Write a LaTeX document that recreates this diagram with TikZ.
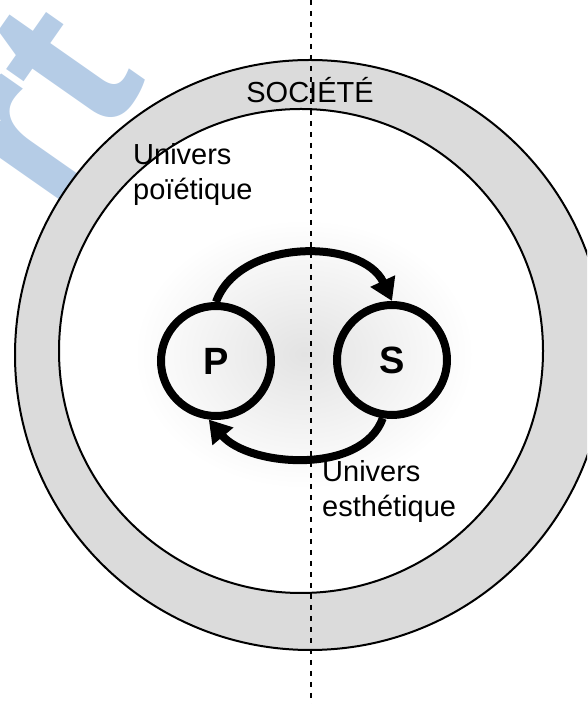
\documentclass[tikz,border=0pt]{standalone}
\usepackage{fontspec}
\setmainfont{Liberation Sans}
\usetikzlibrary{arrows.meta}
\definecolor{ringgray}{gray}{0.86}
\definecolor{markblue}{RGB}{181,204,230}

\begin{document}
\begin{tikzpicture}[x=1pt,y=1pt,
  pole/.style={draw, circle, line width=8pt, minimum size=110pt, inner sep=0pt,
    font=\bfseries\fontsize{38}{40}\selectfont},
  flow/.style={draw, line width=8pt, -{Triangle[length=22pt,width=26pt]}},
  univers/.style={align=left, inner sep=0pt, font=\fontsize{29}{35}\selectfont},
  ]
\useasboundingbox (0,0) rectangle (587,704);
\clip (0,0) rectangle (587,704);

% watermark
\node[rotate=55, text=markblue, inner sep=0pt, font=\bfseries\fontsize{230}{230}\selectfont] (mark) at (40,600) {rt};

% society ring
\shade[inner color=gray!22, outer color=white] (304,350) ellipse [x radius=170, y radius=135];
\path[fill=ringgray, even odd rule] (310,349) circle (295) (301,353) circle (242);
\path[draw, line width=2pt] (310,349) circle (295);
\path[draw, line width=2pt] (301,353) circle (242);

\coordinate (top) at (311,704);
\coordinate (bottom) at (311,0);
\path[draw, line width=1.2pt, dash pattern=on 5pt off 6pt] (top) -- (bottom);

\node[pole] (P) at (216,343) {P};
\node[pole] (S) at (392,344) {S};

\path[flow] (P.north) to[out=70,in=115] (S.north);
\path[flow] (S.-99) to[out=-110,in=-50,looseness=0.9] (P.-97);

\node[univers, anchor=base] (societe) at (310,601) {SOCIÉTÉ};
\node[univers, anchor=base west] (poietique) at (133,504) {Univers\\poïétique};
\node[univers, anchor=base west] (esthetique) at (322,187) {Univers\\esthétique};
\end{tikzpicture}
\end{document}
